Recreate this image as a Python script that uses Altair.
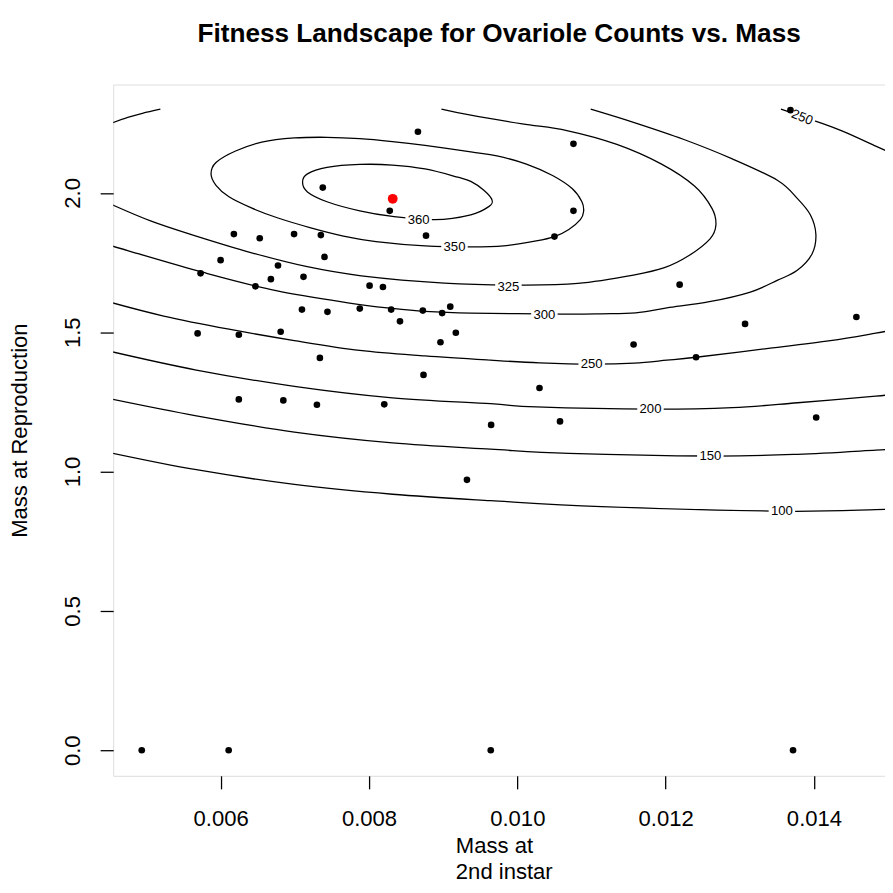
import altair as alt
import pandas as pd

# ---------------- observed individuals ----------------
mass_2nd = [0.008660, 0.007377, 0.008280, 0.008769, 0.006178, 0.006527, 0.006990, 0.007351,
            0.005999, 0.007400, 0.006773, 0.005729, 0.006677, 0.007117, 0.006469, 0.008008,
            0.008188, 0.007096, 0.007440, 0.007876, 0.008299, 0.008726, 0.008986, 0.009096,
            0.008418, 0.005689, 0.006245, 0.006809, 0.009171, 0.008964, 0.007338, 0.009321,
            0.008735, 0.006245, 0.006845, 0.007298, 0.008206, 0.009647, 0.013683, 0.010757,
            0.010757, 0.010501, 0.012189, 0.013071, 0.014572, 0.011568, 0.012410, 0.010299,
            0.010576, 0.014030, 0.004936, 0.006108, 0.009642, 0.013718]
mass_repro = [2.2196, 2.0190, 1.9356, 1.8466, 1.8522, 1.8371, 1.8522, 1.8487,
              1.7586, 1.7702, 1.7396, 1.7114, 1.6903, 1.6988, 1.6646, 1.6671,
              1.6622, 1.5812, 1.5731, 1.5847, 1.5812, 1.5777, 1.5686, 1.5918,
              1.5390, 1.4957, 1.4911, 1.5017, 1.4982, 1.4640, 1.4077, 0.9703,
              1.3468, 1.2588, 1.2553, 1.2398, 1.2413, 1.1673, 2.2970, 2.1760,
              1.9356, 1.8431, 1.6706, 1.5298, 1.5545, 1.4559, 1.4102, 1.2997,
              1.1800, 1.1941, 0.0, 0.0, 0.0, 0.0]

# fitness optimum
opt_x = [0.008320]
opt_y = [1.9789]

# ---------------- contour lines ----------------
c360_x = [0.007104, 0.007170, 0.007434, 0.007876, 0.008316, 0.008756, 0.009198, 0.009373, 0.009549,
          0.009660, 0.009615, 0.009373, 0.008888, 0.008316, 0.007876, 0.007434, 0.007170]
c360_y = [2.0387, 2.0683, 2.0915, 2.1021, 2.1000, 2.0859, 2.0563, 2.0412, 2.0095,
          1.9743, 1.9507, 1.9215, 1.9039, 1.9156, 1.9356, 1.9683, 2.0035]

c350_x = [0.005870, 0.005937, 0.006201, 0.006554, 0.006994, 0.007434, 0.007876, 0.008316, 0.008756,
          0.009373, 0.009726, 0.010123, 0.010475, 0.010739, 0.010871, 0.010894, 0.010850, 0.010695,
          0.010501, 0.010255, 0.009814, 0.009373, 0.008756, 0.008095, 0.007655, 0.007215, 0.006773,
          0.006422, 0.006112, 0.005937]
c350_y = [2.0683, 2.1091, 2.1503, 2.1820, 2.1971, 2.1996, 2.1950, 2.1844, 2.1704,
          2.1468, 2.1327, 2.1035, 2.0623, 2.0155, 1.9683, 1.9332, 1.9039, 1.8687,
          1.8431, 1.8276, 1.8100, 1.8065, 1.8100, 1.8255, 1.8452, 1.8747, 1.9099,
          1.9451, 1.9859, 2.0271]

c325a_x = [0.004500, 0.004747, 0.004945, 0.005187]
c325a_y = [2.2475, 2.2707, 2.2858, 2.3006]

c325b_x = [0.008977, 0.009373, 0.010067, 0.010668, 0.011342, 0.011939, 0.012389, 0.012625, 0.012678,
           0.012599, 0.012315, 0.011984, 0.011566, 0.010816, 0.010067, 0.009015, 0.007897, 0.007151,
           0.006406, 0.005659, 0.005064, 0.004500]
c325b_y = [2.3006, 2.2787, 2.2478, 2.2238, 2.1742, 2.1042, 2.0247, 1.9444, 1.8846,
           1.8350, 1.7751, 1.7315, 1.7051, 1.6752, 1.6692, 1.6766, 1.7026, 1.7361,
           1.7860, 1.8459, 1.8987, 1.9620]

c300_x = [0.010990, 0.011577, 0.012238, 0.012899, 0.013511, 0.013775, 0.013951, 0.014026, 0.013974,
          0.013775, 0.013511, 0.013142, 0.012590, 0.012017, 0.011598, 0.011136, 0.010609, 0.009373,
          0.008756, 0.008316, 0.007737, 0.006748, 0.005759, 0.004767, 0.004500]
c300_y = [2.3006, 2.2524, 2.1925, 2.1221, 2.0447, 1.9803, 1.9215, 1.8512, 1.7808,
          1.7220, 1.6868, 1.6442, 1.6094, 1.5872, 1.5696, 1.5661, 1.5650, 1.5686,
          1.5749, 1.5854, 1.6048, 1.6492, 1.7153, 1.7913, 1.8124]

c250a_x = [0.013555, 0.014040, 0.014393, 0.014833, 0.014991]
c250a_y = [2.3006, 2.2559, 2.2207, 2.1679, 2.1489]

c250b_x = [0.004500, 0.005232, 0.006112, 0.006994, 0.007876, 0.008756, 0.009638, 0.010299, 0.011003,
           0.011577, 0.012017, 0.012410, 0.013339, 0.014221, 0.014833, 0.014991]
c250b_y = [1.6083, 1.5580, 1.5108, 1.4700, 1.4348, 1.4148, 1.3996, 1.3901, 1.3855,
           1.3891, 1.3996, 1.4102, 1.4404, 1.4700, 1.4967, 1.5045]

c200_x = [0.004500, 0.005672, 0.006994, 0.008316, 0.009638, 0.010255, 0.011796, 0.012899, 0.013780,
          0.014833, 0.014991]
c200_y = [1.4320, 1.3644, 1.3057, 1.2645, 1.2434, 1.2318, 1.2237, 1.2293, 1.2469,
          1.2705, 1.2757]

c150_x = [0.004500, 0.005672, 0.006994, 0.008316, 0.009638, 0.010695, 0.012603, 0.013780, 0.014833,
          0.014991]
c150_y = [1.2617, 1.2001, 1.1413, 1.1026, 1.0804, 1.0653, 1.0558, 1.0618, 1.0769,
          1.0794]

c100_x = [0.004500, 0.005672, 0.006994, 0.008316, 0.009638, 0.011136, 0.013568, 0.014833, 0.014991]
c100_y = [1.0681, 1.0065, 0.9537, 0.9185, 0.8956, 0.8745, 0.8577, 0.8633, 0.8647]

# contour labels
lbl_text = ["360", "350", "325", "300", "250", "200", "150", "100", "250"]
lbl_x = [0.008669, 0.009153, 0.009880, 0.010365, 0.011003, 0.011796, 0.012603, 0.013568, 0.013841]
lbl_y = [1.9039, 1.8065, 1.6636, 1.5615, 1.3855, 1.2237, 1.0558, 0.8577, 2.2710]
lbl_angle = [0, 0, 0, 0, 0, 0, 0, 0, 22]

x_ticks = [0.006, 0.008, 0.010, 0.012, 0.014]
y_ticks = [0.0, 0.5, 1.0, 1.5, 2.0]

# ---------------- tables ----------------
def seg_rows(name, xs, ys):
    return [{"seg": name, "i": i, "x": a, "y": b} for i, (a, b) in enumerate(zip(xs, ys))]

open_rows = (seg_rows("325a", c325a_x, c325a_y) + seg_rows("325b", c325b_x, c325b_y)
             + seg_rows("300", c300_x, c300_y) + seg_rows("250a", c250a_x, c250a_y)
             + seg_rows("250b", c250b_x, c250b_y) + seg_rows("200", c200_x, c200_y)
             + seg_rows("150", c150_x, c150_y) + seg_rows("100", c100_x, c100_y))
closed_rows = seg_rows("360", c360_x, c360_y) + seg_rows("350", c350_x, c350_y)

open_df = pd.DataFrame(open_rows)
closed_df = pd.DataFrame(closed_rows)
pts_df = pd.DataFrame({"x": mass_2nd, "y": mass_repro})
opt_df = pd.DataFrame({"x": opt_x, "y": opt_y})
lbl_df = pd.DataFrame({"x": lbl_x, "y": lbl_y, "t": lbl_text, "a": lbl_angle})

FONT = "Liberation Sans"
LW = 1.3

xscale = alt.Scale(domain=[0.004551, 0.014958], nice=False, zero=False)
yscale = alt.Scale(domain=[-0.0919, 2.389], nice=False, zero=False)

xaxis = alt.Axis(values=x_ticks, format=".3f", title=["Mass at", "2nd instar"], grid=False,
                 domain=False, ticks=True, tickSize=13.3, tickWidth=LW, tickColor="black",
                 labelFont=FONT, labelFontSize=22.5, labelColor="black", labelBaseline="alphabetic",
                 labelAlign="center", labelPadding=37.9, labelFlush=False, labelOverlap=False,
                 titleFont=FONT, titleFontSize=22.5, titleFontWeight="normal", titleColor="black",
                 titleAlign="left", titleBaseline="alphabetic", titleX=349, titleY=78.2,
                 titleLineHeight=27)
yaxis = alt.Axis(values=y_ticks, format=".1f", title="Mass at Reproduction", grid=False,
                 domain=False, ticks=True, tickSize=13.3, tickWidth=LW, tickColor="black",
                 labelFont=FONT, labelFontSize=22.5, labelColor="black", labelAngle=270,
                 labelAlign="center", labelBaseline="middle", labelPadding=27.8,
                 labelFlush=False, labelOverlap=False,
                 titleFont=FONT, titleFontSize=22.5, titleFontWeight="normal", titleColor="black",
                 titleAngle=270, titleAlign="center", titleBaseline="alphabetic",
                 titleX=-88.3, titleY=352.55)

X = alt.X("x:Q", scale=xscale, axis=xaxis)
Y = alt.Y("y:Q", scale=yscale, axis=yaxis)

open_lines = alt.Chart(open_df).mark_line(color="black", strokeWidth=LW, interpolate="cardinal",
                                          clip=True).encode(
    x=X, y=Y, detail="seg:N", order="i:Q")
closed_lines = alt.Chart(closed_df).mark_line(color="black", strokeWidth=LW,
                                              interpolate="cardinal-closed", clip=True).encode(
    x=X, y=Y, detail="seg:N", order="i:Q")
masks = alt.Chart(lbl_df).mark_point(shape="M-1,-0.35L1,-0.35L1,0.35L-1,0.35Z", filled=True,
                                     fill="white", strokeWidth=0, size=729, opacity=1).encode(
    x=X, y=Y, angle=alt.Angle("a:Q", scale=None))
labels = alt.Chart(lbl_df).mark_text(font=FONT, fontSize=13.4, color="black", align="center",
                                     baseline="middle").encode(
    x=X, y=Y, text="t:N", angle=alt.Angle("a:Q", scale=None))
points = alt.Chart(pts_df).mark_circle(color="black", size=46, opacity=1).encode(x=X, y=Y)
optimum = alt.Chart(opt_df).mark_circle(color="#ff0000", size=100, opacity=1).encode(x=X, y=Y)

chart = alt.layer(open_lines, closed_lines, masks, labels, points, optimum).properties(
    width=787.2, height=705.1,
    padding={"left": 107.3, "top": 69.2, "right": 0, "bottom": 110.7},
    autosize=alt.AutoSizeParams(type="none"),
    title=alt.TitleParams(text="Fitness Landscape for Ovariole Counts vs. Mass", font=FONT,
                          fontSize=26.7, fontWeight="bold", color="black", anchor="middle",
                          frame="group", offset=17, baseline="alphabetic"),
).configure_view(stroke="black", strokeWidth=LW).configure(background="white")

chart.save("out.html", embed_options={"renderer": "svg", "actions": False})
